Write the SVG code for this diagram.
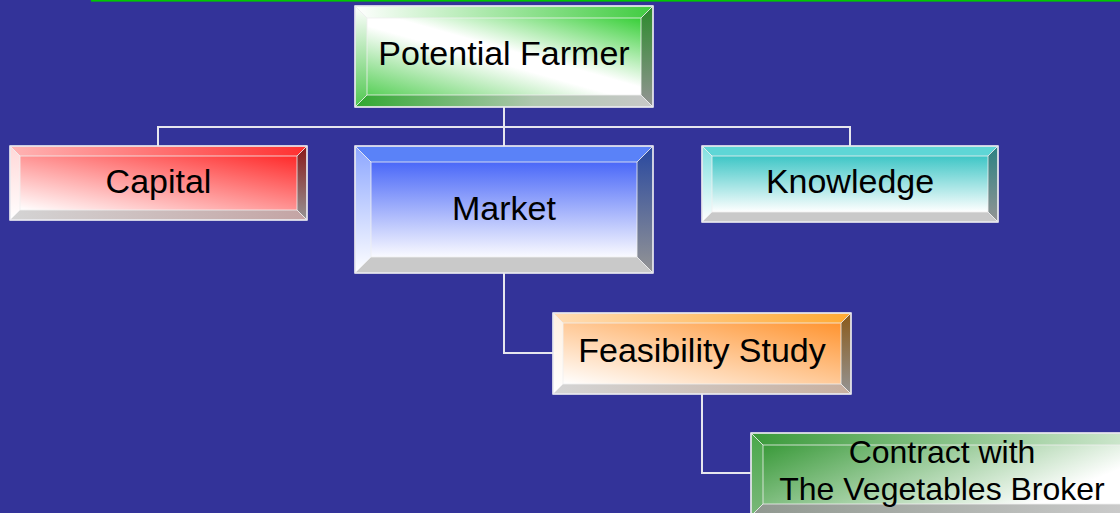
<svg xmlns="http://www.w3.org/2000/svg" width="1120" height="513" viewBox="0 0 1120 513">
<defs>
<style>
.lbl{font-family:"Liberation Sans",Arial,sans-serif;font-size:34px;fill:#000;text-anchor:middle}
.lbl2{font-family:"Liberation Sans",Arial,sans-serif;font-size:32px;fill:#000;text-anchor:middle}
.face{stroke:#f0f0f0;stroke-width:1;stroke-opacity:0.8}
.edge{fill:none;stroke:#e8e8ee;stroke-width:1.5}
.conn{fill:none;stroke:#e6e6ee;stroke-width:2}
.gray{fill:#c9c9c9}
</style>
<!-- green -->
<linearGradient id="gIn" x1="1" y1="0" x2="0" y2="1"><stop offset="0" stop-color="#38cf38"/><stop offset="0.45" stop-color="#ffffff"/><stop offset="0.55" stop-color="#ffffff"/><stop offset="1" stop-color="#5ad05a"/></linearGradient>
<linearGradient id="gTop" x1="0" y1="0" x2="1" y2="0"><stop offset="0" stop-color="#ffffff"/><stop offset="1" stop-color="#40cc40"/></linearGradient>
<linearGradient id="gLeft" x1="0" y1="0" x2="0" y2="1"><stop offset="0" stop-color="#ffffff"/><stop offset="1" stop-color="#50c850"/></linearGradient>
<linearGradient id="gRight" x1="0" y1="0" x2="0" y2="1"><stop offset="0" stop-color="#2a8a2a"/><stop offset="1" stop-color="#949494"/></linearGradient>
<linearGradient id="gBot" x1="0" y1="0" x2="1" y2="0"><stop offset="0" stop-color="#30a830"/><stop offset="0.6" stop-color="#b0c8b0"/><stop offset="1" stop-color="#c8c8c8"/></linearGradient>
<!-- red -->
<linearGradient id="rIn" x1="1" y1="0" x2="0" y2="1"><stop offset="0" stop-color="#ff2a2a"/><stop offset="1" stop-color="#ffffff"/></linearGradient>
<linearGradient id="rTop" x1="0" y1="0" x2="1" y2="0"><stop offset="0" stop-color="#ffb4b4"/><stop offset="1" stop-color="#ff3030"/></linearGradient>
<linearGradient id="rLeft" x1="0" y1="0" x2="0" y2="1"><stop offset="0" stop-color="#ffd8d8"/><stop offset="1" stop-color="#ffffff"/></linearGradient>
<linearGradient id="rRight" x1="0" y1="0" x2="0" y2="1"><stop offset="0" stop-color="#8a1818"/><stop offset="1" stop-color="#949494"/></linearGradient>
<linearGradient id="rBot" x1="0" y1="0" x2="1" y2="0"><stop offset="0" stop-color="#d4d4d4"/><stop offset="1" stop-color="#c4a4a4"/></linearGradient>
<!-- blue -->
<linearGradient id="bIn" x1="0" y1="0" x2="0" y2="1"><stop offset="0" stop-color="#4a68f8"/><stop offset="1" stop-color="#fafaff"/></linearGradient>
<linearGradient id="bLeft" x1="0" y1="0" x2="0" y2="1"><stop offset="0" stop-color="#8ca6ff"/><stop offset="1" stop-color="#ffffff"/></linearGradient>
<linearGradient id="bRight" x1="0" y1="0" x2="0" y2="1"><stop offset="0" stop-color="#2848a0"/><stop offset="1" stop-color="#949494"/></linearGradient>
<!-- teal -->
<linearGradient id="tIn" x1="0" y1="0" x2="0" y2="1"><stop offset="0" stop-color="#3ec6c6"/><stop offset="1" stop-color="#ffffff"/></linearGradient>
<linearGradient id="tLeft" x1="0" y1="0" x2="0" y2="1"><stop offset="0" stop-color="#80e0e0"/><stop offset="1" stop-color="#ffffff"/></linearGradient>
<linearGradient id="tRight" x1="0" y1="0" x2="0" y2="1"><stop offset="0" stop-color="#2a8282"/><stop offset="1" stop-color="#949494"/></linearGradient>
<!-- orange -->
<linearGradient id="oIn" x1="1" y1="0" x2="0" y2="1"><stop offset="0" stop-color="#ff9430"/><stop offset="1" stop-color="#ffffff"/></linearGradient>
<linearGradient id="oTop" x1="0" y1="0" x2="1" y2="0"><stop offset="0" stop-color="#ffdcb4"/><stop offset="1" stop-color="#ffaa33"/></linearGradient>
<linearGradient id="oLeft" x1="0" y1="0" x2="0" y2="1"><stop offset="0" stop-color="#fff0e0"/><stop offset="1" stop-color="#ffffff"/></linearGradient>
<linearGradient id="oRight" x1="0" y1="0" x2="0" y2="1"><stop offset="0" stop-color="#8a5a1a"/><stop offset="1" stop-color="#949494"/></linearGradient>
<linearGradient id="oBot" x1="0" y1="0" x2="1" y2="0"><stop offset="0" stop-color="#d4d4d4"/><stop offset="1" stop-color="#c8b0a0"/></linearGradient>
<!-- dark green -->
<linearGradient id="dIn" x1="0" y1="0" x2="1" y2="0.4"><stop offset="0" stop-color="#3a9a3a"/><stop offset="1" stop-color="#ffffff"/></linearGradient>
<linearGradient id="dTop" x1="0" y1="0" x2="1" y2="0"><stop offset="0" stop-color="#3a9a3a"/><stop offset="1" stop-color="#d0e8d0"/></linearGradient>
<linearGradient id="dLeft" x1="0" y1="0" x2="0" y2="1"><stop offset="0" stop-color="#4aa84a"/><stop offset="1" stop-color="#7ab87a"/></linearGradient>
<linearGradient id="dBot" x1="0" y1="0" x2="1" y2="0"><stop offset="0" stop-color="#909890"/><stop offset="1" stop-color="#cccccc"/></linearGradient>
</defs>
<rect x="0" y="0" width="1120" height="513" fill="#333399"/>
<rect x="91" y="0" width="1029" height="1.6" fill="#00c800"/>

<g id="connectors">
<path class="conn" d="M504,107 V146 M158,146 V127 H850 V146"/>
<path class="conn" d="M504,273 V353 H553"/>
<path class="conn" d="M702,394 V473 H751"/>
</g>

<g id="potential-farmer">
<rect x="367" y="18" width="274" height="77" fill="url(#gIn)"/>
<polygon class="face" points="355,6 653,6 641,18 367,18" fill="url(#gTop)"/>
<polygon class="face" points="355,6 367,18 367,95 355,107" fill="url(#gLeft)"/>
<polygon class="face" points="653,6 653,107 641,95 641,18" fill="url(#gRight)"/>
<polygon class="face" points="355,107 367,95 641,95 653,107" fill="url(#gBot)"/>
<rect class="edge" x="355" y="6" width="298" height="101"/>
<text class="lbl" x="504" y="65">Potential Farmer</text>
</g>

<g id="capital">
<rect x="20" y="156" width="277" height="54" fill="url(#rIn)"/>
<polygon class="face" points="10,146 307,146 297,156 20,156" fill="url(#rTop)"/>
<polygon class="face" points="10,146 20,156 20,210 10,220" fill="url(#rLeft)"/>
<polygon class="face" points="307,146 307,220 297,210 297,156" fill="url(#rRight)"/>
<polygon class="face" points="10,220 20,210 297,210 307,220" fill="url(#rBot)"/>
<rect class="edge" x="10" y="146" width="297" height="74"/>
<text class="lbl" x="158.5" y="193">Capital</text>
</g>

<g id="market">
<rect x="371" y="162" width="266" height="95" fill="url(#bIn)"/>
<polygon class="face" points="355,146 653,146 637,162 371,162" fill="#5a82f8"/>
<polygon class="face" points="355,146 371,162 371,257 355,273" fill="url(#bLeft)"/>
<polygon class="face" points="653,146 653,273 637,257 637,162" fill="url(#bRight)"/>
<polygon class="face gray" points="355,273 371,257 637,257 653,273"/>
<rect class="edge" x="355" y="146" width="298" height="127"/>
<text class="lbl" x="504" y="220">Market</text>
</g>

<g id="knowledge">
<rect x="712" y="156" width="276" height="56" fill="url(#tIn)"/>
<polygon class="face" points="702,146 998,146 988,156 712,156" fill="#5ed6d6"/>
<polygon class="face" points="702,146 712,156 712,212 702,222" fill="url(#tLeft)"/>
<polygon class="face" points="998,146 998,222 988,212 988,156" fill="url(#tRight)"/>
<polygon class="face gray" points="702,222 712,212 988,212 998,222"/>
<rect class="edge" x="702" y="146" width="296" height="76"/>
<text class="lbl" x="850" y="193">Knowledge</text>
</g>

<g id="feasibility-study">
<rect x="563" y="323" width="278" height="61" fill="url(#oIn)"/>
<polygon class="face" points="553,313 851,313 841,323 563,323" fill="url(#oTop)"/>
<polygon class="face" points="553,313 563,323 563,384 553,394" fill="url(#oLeft)"/>
<polygon class="face" points="851,313 851,394 841,384 841,323" fill="url(#oRight)"/>
<polygon class="face" points="553,394 563,384 841,384 851,394" fill="url(#oBot)"/>
<rect class="edge" x="553" y="313" width="298" height="81"/>
<text class="lbl" x="702" y="362">Feasibility Study</text>
</g>

<g id="contract">
<rect x="763" y="445" width="358" height="59" fill="url(#dIn)"/>
<polygon class="face" points="751,433 1133,433 1121,445 763,445" fill="url(#dTop)"/>
<polygon class="face" points="751,433 763,445 763,504 751,516" fill="url(#dLeft)"/>
<polygon class="face" points="1133,433 1133,516 1121,504 1121,445" fill="#8a9a8a"/>
<polygon class="face" points="751,516 763,504 1121,504 1133,516" fill="url(#dBot)"/>
<rect class="edge" x="751" y="433" width="382" height="83"/>
<text class="lbl2" x="942" y="463">Contract with</text>
<text class="lbl2" x="942" y="500">The Vegetables Broker</text>
</g>
</svg>
